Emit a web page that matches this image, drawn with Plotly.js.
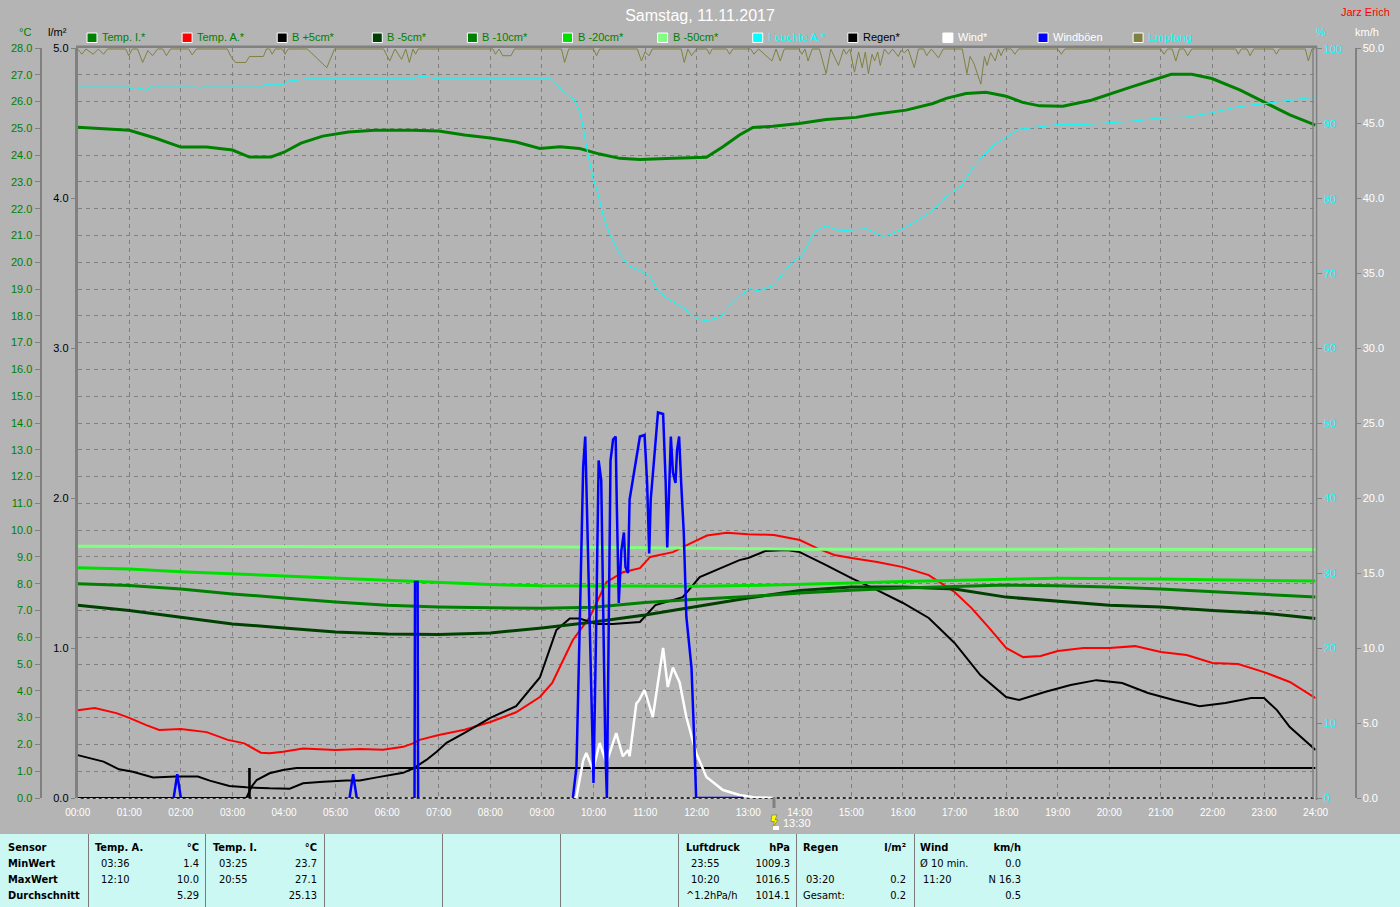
<!DOCTYPE html>
<html><head><meta charset="utf-8">
<script src="https://cdn.plot.ly/plotly-3.0.1.min.js"></script>
<style>
html,body{margin:0;padding:0;background:#b4b4b4;overflow:hidden;width:1400px;height:907px;}
#chart{position:absolute;left:0;top:0;width:1400px;height:834px;}
#tbl{position:absolute;left:0;top:834px;width:1400px;height:73px;background:#ccf8f4;font-family:"Liberation Sans Narrow","DejaVu Sans Condensed","Liberation Sans",sans-serif;font-size:11px;color:#000;}
#tbl span{position:absolute;line-height:14px;white-space:nowrap;}
#tbl span.b{font-weight:bold;}
#tbl div.sep{position:absolute;top:0;width:1px;height:73px;background:#7a7a7a;}
</style></head><body>
<div id="chart"></div><div id="tbl"></div>
<script>
// ---------- data ----------
const hourLabels = ['00:00','01:00','02:00','03:00','04:00','05:00','06:00','07:00','08:00','09:00','10:00','11:00','12:00',
  '13:00','14:00','15:00','16:00','17:00','18:00','19:00','20:00','21:00','22:00','23:00','24:00'];
const hourTicks = [0,1,2,3,4,5,6,7,8,9,10,11,12,13,14,15,16,17,18,19,20,21,22,23,24];

const tempI_T = [0,0.8,1.0,1.5,2.0,2.5,3.0,3.33,3.75,4.0,4.33,4.75,5.25,5.75,6.5,7.0,7.5,8.0,8.5,8.96,9.35,9.73,10.12,10.51,10.9,11.54,12.19,12.51,12.83,13.09,13.48,13.99,14.51,15.09,15.41,16.06,16.58,16.84,17.22,17.61,18.0,18.32,18.65,19.1,19.65,20.43,21.2,21.6,21.99,22.54,22.93,23.5,24];
const tempI_V = [25.04,24.94,24.93,24.64,24.3,24.3,24.19,23.93,23.93,24.11,24.45,24.71,24.86,24.93,24.93,24.9,24.75,24.64,24.49,24.25,24.31,24.25,24.04,23.88,23.84,23.88,23.92,24.31,24.75,25.03,25.08,25.18,25.33,25.41,25.52,25.68,25.93,26.12,26.3,26.35,26.2,25.97,25.84,25.83,26.05,26.55,27.02,27.02,26.86,26.43,26.05,25.5,25.12];

const tempA_T = [0,0.33,0.75,1.0,1.33,1.58,2.0,2.5,2.91,3.23,3.55,3.72,3.98,4.37,5.0,5.47,5.92,6.31,6.5,6.63,7.0,7.5,8.0,8.5,8.96,9.2,9.35,9.6,9.93,10.25,10.57,10.9,11.1,11.54,11.87,12.2,12.58,13.0,13.5,14.0,14.33,14.67,15.0,15.5,16.0,16.5,17.0,17.33,17.67,18.0,18.33,18.67,19.0,19.5,20.0,20.5,21.0,21.5,22.0,22.5,23.0,23.5,24];
const tempA_V = [3.28,3.36,3.17,2.99,2.72,2.54,2.58,2.46,2.17,2.04,1.69,1.67,1.73,1.85,1.79,1.83,1.8,1.91,2.04,2.17,2.35,2.55,2.84,3.2,3.77,4.3,4.9,5.9,6.76,8.06,8.43,8.58,9.0,9.18,9.5,9.8,9.9,9.85,9.82,9.63,9.33,9.07,8.96,8.81,8.62,8.32,7.69,7.09,6.35,5.6,5.26,5.3,5.49,5.6,5.6,5.67,5.45,5.34,5.04,5.0,4.7,4.33,3.73];

const b5_T = [0,0.25,0.5,0.8,1.07,1.46,1.9,2.33,2.56,2.94,3.27,3.72,4.11,4.37,4.76,5.21,5.47,5.8,6.05,6.31,6.5,6.76,6.96,7.15,7.5,8.0,8.5,8.96,9.28,9.54,9.73,10.06,10.37,10.9,11.2,11.73,12.06,12.5,12.83,13.0,13.33,13.75,14.0,14.5,15.0,15.5,16.0,16.5,17.0,17.5,18.0,18.25,18.75,19.25,19.75,20.25,20.75,21.25,21.75,22.25,22.75,23.0,23.25,23.5,24];
const b5_V = [1.6,1.48,1.36,1.07,0.98,0.77,0.8,0.8,0.65,0.45,0.4,0.36,0.35,0.55,0.61,0.65,0.65,0.77,0.86,0.94,1.1,1.42,1.73,2.06,2.43,2.99,3.43,4.5,6.27,6.7,6.7,6.5,6.5,6.57,7.2,7.5,8.25,8.6,8.88,8.96,9.22,9.26,9.18,8.7,8.21,7.76,7.28,6.72,5.79,4.59,3.77,3.66,3.96,4.22,4.4,4.29,3.92,3.66,3.43,3.55,3.73,3.73,3.28,2.65,1.79];

const soilT = [0,1,2,3,4,5,6,7,8,9,10,11,12,13,14,15,16,17,18,19,20,21,22,23,24];
const bMinus5  = [7.2,7.0,6.75,6.5,6.35,6.2,6.12,6.1,6.16,6.35,6.57,6.83,7.15,7.47,7.75,7.88,7.88,7.8,7.5,7.35,7.2,7.13,7.0,6.9,6.7];
const bMinus10 = [8.0,7.93,7.8,7.62,7.47,7.32,7.2,7.13,7.1,7.08,7.12,7.3,7.42,7.52,7.65,7.76,7.84,7.9,7.95,7.92,7.88,7.8,7.7,7.6,7.5];
const bMinus20 = [8.6,8.55,8.45,8.37,8.27,8.2,8.13,8.05,7.97,7.92,7.91,7.91,7.91,7.93,7.97,8.03,8.08,8.13,8.17,8.2,8.2,8.18,8.15,8.12,8.1];
const bMinus50 = [9.4,9.4,9.39,9.39,9.39,9.38,9.38,9.38,9.38,9.38,9.36,9.34,9.32,9.3,9.29,9.29,9.29,9.29,9.28,9.28,9.28,9.28,9.28,9.28,9.28];

const humT = [0,1.0,1.05,1.12,1.33,1.4,2.3,2.34,2.4,3.55,3.65,4.0,4.07,4.44,6.5,6.6,6.75,6.99,9.19,9.41,9.64,9.73,9.80,9.89,9.99,10.09,10.18,10.31,10.51,10.67,10.90,11.09,11.25,11.41,11.73,11.99,12.19,12.45,12.64,12.83,13.03,13.19,13.48,13.67,13.87,14.0,14.13,14.29,14.51,14.77,15.29,15.61,15.74,16.06,16.32,16.58,16.71,16.97,17.13,17.36,17.55,17.78,18.0,18.26,18.65,19.0,19.5,20.0,20.5,21.0,21.5,22.0,22.5,23.0,23.5,24];
const humV = [94.9,94.9,94.6,94.9,94.5,94.9,94.9,94.6,94.9,94.9,95.3,95.3,95.7,96.0,96.0,96.3,96.3,96.0,96.0,94.4,93.1,91.7,89.5,86,82.8,80.6,78,75.3,72.6,71.1,70.4,69.7,67.7,66.8,65.5,64,63.7,64.2,65.7,67,68,67.7,68.4,70,71.7,72.2,73.5,75.7,76.4,75.7,76,75,75.2,76.2,77.3,78.4,79.5,81,81.7,84.2,85.7,87.3,88.2,89.3,89.6,89.9,89.9,90.1,90.4,90.8,90.9,91.5,92.3,92.7,93.2,93.6];

const regenT = [0,3.27,3.37,3.47,3.72,3.98,4.24,24];
const regenV = [0,0,0.075,0.12,0.165,0.187,0.2,0.2];
const regenBarT = [3.33];
const regenBarV = [0.2];

const windT = [9.6,9.67,9.80,9.86,9.99,10.12,10.25,10.44,10.57,10.67,10.70,10.83,10.88,10.99,11.15,11.22,11.35,11.44,11.54,11.67,11.80,11.99,12.19,12.51,12.83,13.1,13.5];
const windV = [0,0.07,2.5,3.0,1.87,3.67,2.33,4.33,2.78,3.2,2.78,6.3,6.5,7.2,5.4,7.0,10.0,7.4,8.7,7.7,5.4,3.0,1.4,0.53,0.2,0.05,0];

const gustT = [1.86,1.93,2.0,null,5.27,5.34,5.41,null,6.53,6.54,6.59,6.6,null,9.60,9.67,9.73,9.80,9.84,9.89,9.96,10.0,10.05,10.10,10.15,10.18,10.23,10.26,10.29,10.33,10.38,10.43,10.45,10.49,10.54,10.59,10.62,10.67,10.70,10.80,10.90,10.99,11.04,11.08,11.11,11.19,11.25,11.35,11.40,11.43,11.48,11.50,11.54,11.59,11.62,11.66,11.70,11.75,11.80,11.90,11.96,11.99,12.9];
const gustV = [0,1.58,0,null,0,1.58,0,null,0,14.4,14.4,0,null,0,2.07,11.0,22.1,24.1,16.7,7.7,1.0,11,22.5,21.2,13.2,3.2,0,11,22.5,23.9,24.1,19.9,13.0,16.5,17.7,15.4,15.0,19.9,22.1,24.1,24.2,21.0,16.3,19.9,23.2,25.7,25.6,21.0,16.7,22.1,24.1,21.7,21.0,23.2,24.1,21.0,17.7,12.1,8.7,3.2,0,0];

const empT = [0,0.08,0.16,0.3,0.4,0.5,0.58,0.93,0.99,1.06,
  1.16,1.26,1.36,1.45,1.55,1.65,1.72,1.8,2.15,2.22,
  2.3,2.9,2.97,3.06,3.26,3.33,3.6,3.66,3.72,3.77,
  3.83,3.97,4.02,4.08,4.45,4.83,4.98,5.93,6.05,6.15,
  6.28,6.36,6.43,6.5,6.55,6.6,8.05,8.1,8.17,8.24,
  8.4,8.47,9.38,9.44,9.52,10.0,10.06,10.12,10.85,10.93,
  11.0,11.08,11.14,11.7,11.76,11.83,11.9,12.0,12.2,12.25,
  12.3,12.58,12.64,12.7,13.05,13.11,13.2,13.46,13.54,13.62,
  13.7,13.98,14.04,14.1,14.16,14.24,14.38,14.44,14.51,14.6,
  14.75,14.85,14.9,14.97,15.06,15.14,15.21,15.27,15.33,15.4,
  15.45,15.51,15.56,15.64,15.72,15.8,15.91,15.96,16.03,16.1,
  16.22,16.3,16.4,16.46,16.55,16.69,16.78,17.15,17.24,17.3,
  17.38,17.51,17.58,17.63,17.7,17.79,17.85,17.9,17.96,18.1,
  18.17,18.24,19.0,19.07,19.14,21.0,21.06,21.13,21.22,21.29,
  21.36,21.45,21.52,21.6,22.45,22.5,22.56,22.67,22.73,22.8,
  23.18,23.24,23.3,23.8,23.86,23.93,24];
const empV = [100,99.3,100,99.3,100,99.3,100,100,99.1,100,
  100,98.2,99.8,99.1,100,100,99.1,100,100,99.2,
  100,100,99.0,98.2,98.2,99.0,99.0,100,100,99.3,
  100,100,99.3,100,100,97.5,100,100,98.4,100,
  98.6,100,98.2,100,99.3,100,100,99.3,100,99.1,
  99.1,100,100,98.2,100,100,99.1,100,100,98.4,
  99.6,99.1,100,100,98.2,100,99.1,100,100,99.3,
  100,100,99.3,100,100,99.3,100,98.4,100,98.4,
  100,100,99.3,100,98.4,100,100,98.4,96.7,100,
  97.8,100,99.3,100,96.9,99.6,97.5,99.6,96.7,99.3,
  98.4,99.6,97.8,100,99.3,100,99.0,99.8,99.5,100,
  97.5,100,100,99.1,100,98.8,100,100,96.7,99.0,
  98.0,95.3,99.0,97.8,99.5,98.4,100,99.1,100,100,
  99.3,100,100,99.3,100,100,99.3,100,100,98.4,
  100,100,99.1,100,100,99.3,100,100,99.1,100,
  100,99.3,100,100,98.4,100,100];

const legendNames = ['Temp. I.*','Temp. A.*','B +5cm*','B -5cm*','B -10cm*','B -20cm*','B -50cm*','Feuchte A.*','Regen*','Wind*','Windböen','Empfang'];
const legendColors = ['#008000','#ff0000','#000000','#004000','#008000','#00e000','#80ff80','#00ffff','#000000','#ffffff','#0000ff','#808040'];
const legendTextColors = ['#008000','#008000','#008000','#008000','#008000','#008000','#008000','#00ffff','#000000','#ffffff','#ffffff','#00ffff'];

// stats table
const statLabels = ['Sensor','MinWert','MaxWert','Durchschnitt'];
const tempAHead = ['Temp. A.','°C'], tempATimes = ['03:36','12:10',''], tempAVals = ['1.4','10.0','5.29'];
const tempIHead = ['Temp. I.','°C'], tempITimes = ['03:25','20:55',''], tempIVals = ['23.7','27.1','25.13'];
const pressHead = ['Luftdruck','hPa'], pressTimes = ['23:55','10:20','^1.2hPa/h'], pressVals = ['1009.3','1016.5','1014.1'];
const rainHead = ['Regen','l/m²'], rainTimes = ['','03:20','Gesamt:'], rainVals = ['','0.2','0.2'];
const windHead = ['Wind','km/h'], windTimes = ['Ø 10 min.','11:20',''], windVals = ['0.0','N 16.3','0.5'];

// ---------- geometry helpers ----------
const W = 1400, yTop = 48, yBot = 798, xL = 77.7, xR = 1315.6;
const PX = x => x / W;
const PY = y => (yBot - y) / (yBot - yTop);
const F = 'Liberation Sans, Arial, sans-serif';
const GRID = '#808080';

function ln(x, y, color, width, axis, extra) {
  return Object.assign({type:'scatter', mode:'lines', x:x, y:y, yaxis:axis, xaxis:'x',
    line:{color:color, width:width, shape:'linear'}, hoverinfo:'skip', showlegend:false, connectgaps:false}, extra || {});
}

const traces = [
  ln(tempI_T, tempI_V, '#008000', 3, 'y'),
  ln(tempA_T, tempA_V, '#ff0000', 2, 'y'),
  ln(b5_T, b5_V, '#000000', 2, 'y'),
  ln(soilT, bMinus5, '#004000', 3, 'y'),
  ln(soilT, bMinus10, '#008000', 3, 'y'),
  ln(soilT, bMinus20, '#00e000', 3, 'y'),
  ln(soilT, bMinus50, '#80ff80', 3, 'y'),
  ln(humT, humV, '#00ffff', 1, 'y3'),
  {type:'bar', x:regenBarT, y:regenBarV, yaxis:'y2', xaxis:'x', width:0.05, marker:{color:'#000000', line:{width:0}}, hoverinfo:'skip', showlegend:false},
  ln(regenT, regenV, '#000000', 2, 'y2'),
  ln(windT, windV, '#ffffff', 2.5, 'y4'),
  ln(gustT, gustV, '#0000ff', 2.5, 'y4'),
  ln(empT, empV, '#808040', 1, 'y3')
];

const shapes = [
  {type:'line', xref:'paper', yref:'paper', x0:PX(xL), x1:PX(xR), y0:0, y1:0, line:{color:'#000000', width:1.5}, layer:'between'},
  {type:'line', xref:'paper', yref:'paper', x0:PX(xL), x1:PX(xR), y0:0, y1:0, line:{color:'#ffffff', width:1.5, dash:'dot'}, layer:'between'},
  {type:'line', xref:'paper', yref:'paper', x0:PX(76), x1:PX(1317), y0:PY(46.8), y1:PY(46.8), line:{color:GRID, width:2.5}, layer:'above'},
  {type:'line', xref:'paper', yref:'paper', x0:PX(1313), x1:PX(1313), y0:0, y1:PY(46), line:{color:GRID, width:1.5}, layer:'above'},
  {type:'line', xref:'paper', yref:'paper', x0:PX(1316.6), x1:PX(1316.6), y0:PY(800), y1:PY(46), line:{color:GRID, width:1.5}, layer:'above'},
  {type:'line', xref:'paper', yref:'paper', x0:PX(774), x1:PX(774), y0:PY(797), y1:PY(808), line:{color:GRID, width:3}, layer:'above'}
];
// small marker icon at 13:30
const iconPts = [[772,815],[777,815],[775,820],[778,820],[773,827],[774.5,821.5],[771,821.5]];
shapes.push({type:'path', xref:'paper', yref:'paper', path:'M ' + iconPts.map(p => PX(p[0]) + ',' + PY(p[1])).join(' L ') + ' Z',
  fillcolor:'#ffff00', line:{color:'#606000', width:0.5}});
shapes.push({type:'rect', xref:'paper', yref:'paper', x0:PX(773), x1:PX(779), y0:PY(830), y1:PY(826), fillcolor:'#ffffff', line:{width:0}});

const annotations = [];
legendNames.forEach((name, i) => {
  const sx = 87 + i * 95.1;
  shapes.push({type:'rect', xref:'paper', yref:'paper', x0:PX(sx), x1:PX(sx + 10), y0:PY(42.5), y1:PY(33), fillcolor:legendColors[i], line:{color:'#ffffff', width:1}});
  annotations.push({xref:'paper', yref:'paper', x:PX(sx + 13), y:PY(37.5), xanchor:'left', yanchor:'middle', showarrow:false,
    text:name, font:{family:F, size:11, color:legendTextColors[i]}});
});
function txt(t, x, y, color, anchor, size) {
  annotations.push({xref:'paper', yref:'paper', x:PX(x), y:PY(y), xanchor:anchor || 'center', yanchor:'middle', showarrow:false,
    text:t, font:{family:F, size:size || 11, color:color}});
}
txt('°C', 25, 32, '#008000');
txt('l/m²', 58, 32, '#000000');
txt('%', 1321, 32, '#00ffff');
txt('km/h', 1367, 32, '#ffffff');
txt('Jarz Erich', 1365, 12, '#ff0000');
txt('13:30', 781, 823, '#ffffff', 'left');

const layout = {
  width:1400, height:834, margin:{l:0, r:0, t:48, b:36, pad:0},
  paper_bgcolor:'#b4b4b4', plot_bgcolor:'#b4b4b4', showlegend:false,
  font:{family:F, size:11}, barmode:'overlay',
  title:{text:'Samstag, 11.11.2017', x:0.5, xanchor:'center', xref:'container', y:1 - 15/834, yanchor:'middle', yref:'container',
    font:{family:F, size:16, color:'#ffffff'}},
  xaxis:{domain:[PX(xL), PX(xR)], range:[0,24], tickmode:'array', tickvals:hourTicks, ticktext:hourLabels,
    showgrid:true, gridcolor:GRID, griddash:'4px,4px', gridwidth:1, zeroline:false, showline:false, ticks:'',
    tickfont:{family:F, size:10, color:'#ffffff'}, ticklabelstandoff:7, fixedrange:true},
  yaxis:{range:[0,28], tick0:0, dtick:1, tickformat:'.1f', anchor:'free', position:PX(40.5), side:'left',
    showline:true, linecolor:GRID, linewidth:2, ticks:'outside', ticklen:5, tickcolor:GRID, tickwidth:1,
    tickfont:{family:F, size:11, color:'#008000'}, showgrid:true, gridcolor:GRID, griddash:'4px,4px', gridwidth:1, zeroline:false},
  yaxis2:{overlaying:'y', range:[0,5], tick0:0, dtick:1, tickformat:'.1f', anchor:'x', side:'left',
    showline:true, linecolor:GRID, linewidth:3, ticks:'outside', ticklen:4, tickcolor:GRID,
    tickfont:{family:F, size:11, color:'#000000'}, showgrid:false, zeroline:false},
  yaxis3:{overlaying:'y', range:[0,100.13], tick0:0, dtick:10, anchor:'x', side:'right',
    showline:false, ticks:'outside', ticklen:5, tickcolor:GRID,
    tickfont:{family:F, size:11, color:'#00ffff'}, showgrid:false, zeroline:false},
  yaxis4:{overlaying:'y', range:[0,50], tick0:0, dtick:5, tickformat:'.1f', anchor:'free', position:PX(1355.5), side:'right',
    showline:true, linecolor:GRID, linewidth:2, ticks:'outside', ticklen:4, tickcolor:GRID,
    tickfont:{family:F, size:11, color:'#ffffff'}, showgrid:false, zeroline:false},
  shapes:shapes, annotations:annotations
};

Plotly.newPlot('chart', traces, layout, {staticPlot:true, displayModeBar:false});

// ---------- statistics table ----------
const tbl = document.getElementById('tbl');
const T0 = 834;
function put(text, x, yc, align, bold) {
  if (!text) return;
  const s = document.createElement('span');
  s.textContent = text;
  s.style.top = (yc - T0 - 7) + 'px';
  if (align === 'right') s.style.right = (1400 - x) + 'px'; else s.style.left = x + 'px';
  if (bold) s.className = 'b';
  tbl.appendChild(s);
}
[88,205,324,442,560,678,796,914].forEach(x => {
  const d = document.createElement('div'); d.className = 'sep'; d.style.left = x + 'px'; tbl.appendChild(d);
});
const rowsY = [848, 864, 880, 896];
statLabels.forEach((t, i) => put(t, 8, rowsY[i], 'left', true));
const cols = [
  {head:tempAHead, times:tempATimes, vals:tempAVals, hx:95, tx:100, vx:199},
  {head:tempIHead, times:tempITimes, vals:tempIVals, hx:213, tx:218, vx:317},
  {head:pressHead, times:pressTimes, vals:pressVals, hx:686, tx:690, vx:790},
  {head:rainHead, times:rainTimes, vals:rainVals, hx:803, tx:805, vx:906},
  {head:windHead, times:windTimes, vals:windVals, hx:920, tx:922, vx:1021}
];
cols.forEach(c => {
  put(c.head[0], c.hx, rowsY[0], 'left', true);
  put(c.head[1], c.vx, rowsY[0], 'right', true);
  for (let r = 0; r < 3; r++) {
    const t = c.times[r];
    const tx = (t.length > 5) ? c.hx : c.tx + 1;
    put(t, tx, rowsY[r + 1], 'left', false);
    put(c.vals[r], c.vx, rowsY[r + 1], 'right', false);
  }
});
</script></body></html>
